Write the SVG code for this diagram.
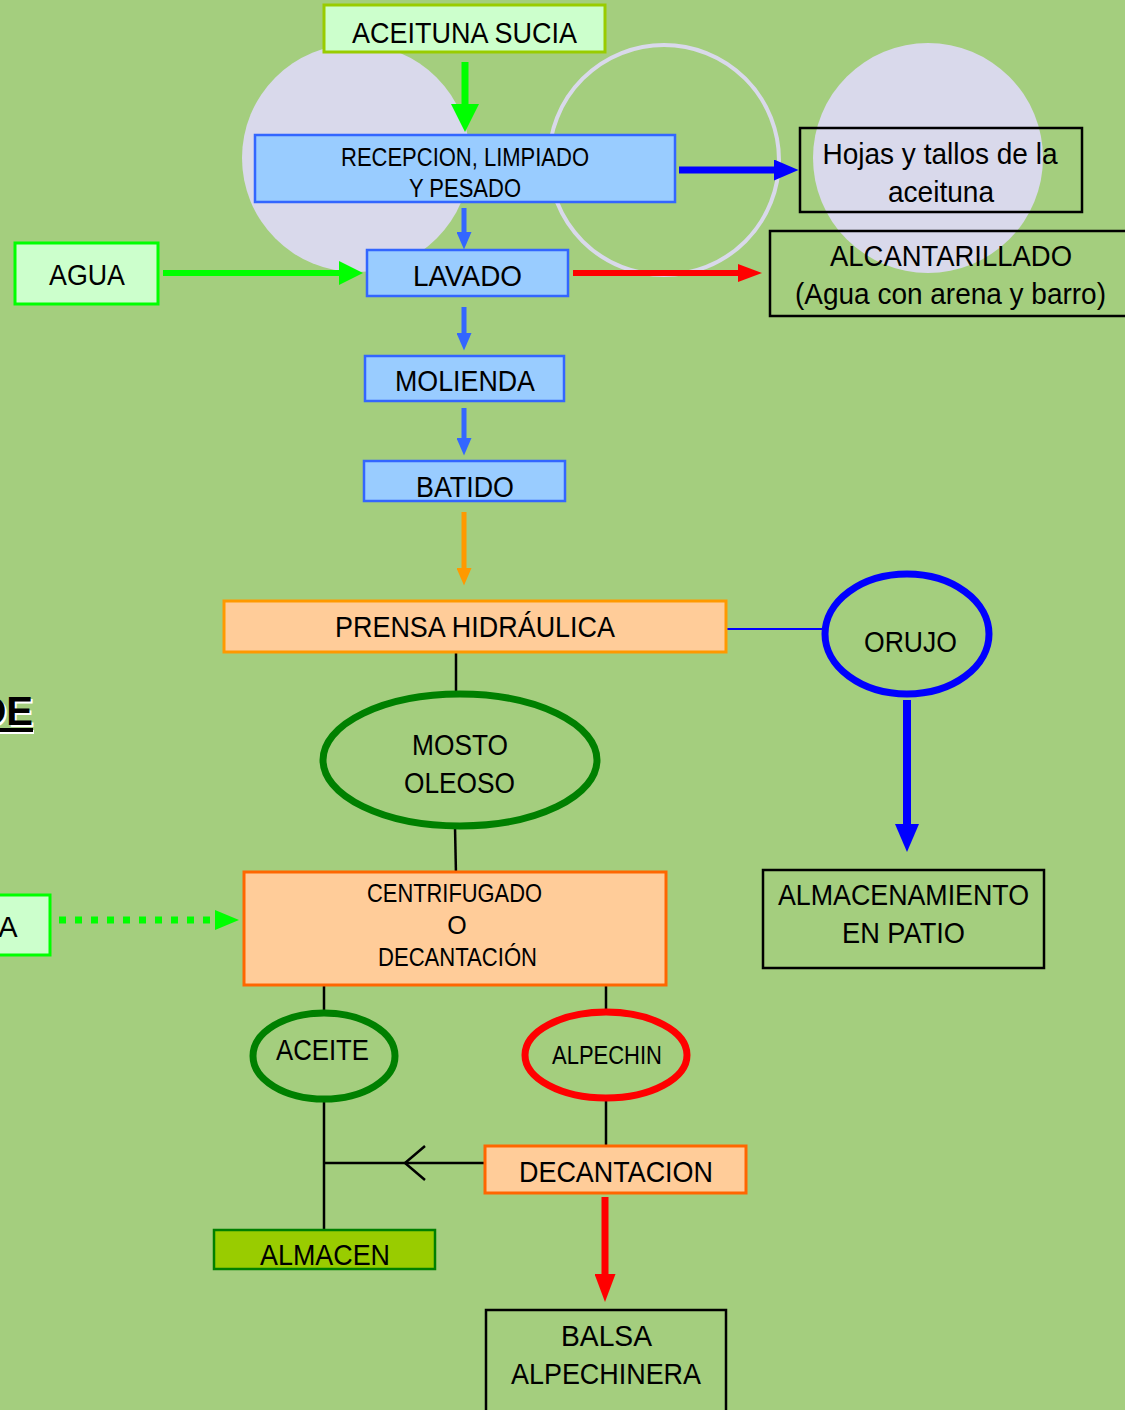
<svg xmlns="http://www.w3.org/2000/svg" width="1125" height="1410" viewBox="0 0 1125 1410">
<style>
text{font-family:"Liberation Sans Narrow","Liberation Sans",Arial,sans-serif;fill:#000;text-anchor:middle}
.t30{font-size:29px}
.t24{font-size:25px}
.green{fill:#CCFFCC;stroke:#00FF00;stroke-width:3}
.blue{fill:#99CCFF;stroke:#3366FF;stroke-width:2.5}
.orange{fill:#FFCC99;stroke:#FF6600;stroke-width:3}
.plain{fill:none;stroke:#000;stroke-width:2.5}
.conn{fill:none}
</style>
<defs>
<marker id="aGreen" markerWidth="4" markerHeight="4" refX="0" refY="2" orient="auto" markerUnits="strokeWidth"><path d="M0,0 L4,2 L0,4z" fill="#00FF00"/></marker>
<marker id="aBlue" markerWidth="3.5" markerHeight="3" refX="0" refY="1.5" orient="auto" markerUnits="strokeWidth"><path d="M0,0 L3.5,1.5 L0,3z" fill="#3366FF"/></marker>
<marker id="aDBlue" markerWidth="3.5" markerHeight="3" refX="0" refY="1.5" orient="auto" markerUnits="strokeWidth"><path d="M0,0 L3.5,1.5 L0,3z" fill="#0000FF"/></marker>
<marker id="aRed" markerWidth="4" markerHeight="3" refX="0" refY="1.5" orient="auto" markerUnits="strokeWidth"><path d="M0,0 L4,1.5 L0,3z" fill="#FF0000"/></marker>
<marker id="aOrange" markerWidth="3.5" markerHeight="3" refX="0" refY="1.5" orient="auto" markerUnits="strokeWidth"><path d="M0,0 L3.5,1.5 L0,3z" fill="#FF9900"/></marker>
</defs>
<rect x="0" y="0" width="1125" height="1410" fill="#A4CE7E"/>
<g id="decor">
<circle cx="356" cy="158" r="114" fill="#D9D9EB"/>
<circle cx="664" cy="160" r="115" fill="none" stroke="#D9D9EB" stroke-width="4"/>
<circle cx="928" cy="158" r="115" fill="#D9D9EB"/>
</g>
<g id="connectors">
<line class="conn" x1="465" y1="62" x2="465" y2="104" stroke="#00FF00" stroke-width="7" marker-end="url(#aGreen)"/>
<line class="conn" x1="464" y1="208" x2="464" y2="232" stroke="#3366FF" stroke-width="5" marker-end="url(#aBlue)"/>
<line class="conn" x1="163" y1="273" x2="339" y2="273" stroke="#00FF00" stroke-width="6" marker-end="url(#aGreen)"/>
<line class="conn" x1="573" y1="273" x2="738" y2="273" stroke="#FF0000" stroke-width="6" marker-end="url(#aRed)"/>
<line class="conn" x1="679" y1="170" x2="774" y2="170" stroke="#0000FF" stroke-width="7" marker-end="url(#aDBlue)"/>
<line class="conn" x1="464" y1="307" x2="464" y2="333" stroke="#3366FF" stroke-width="5" marker-end="url(#aBlue)"/>
<line class="conn" x1="464" y1="408" x2="464" y2="438" stroke="#3366FF" stroke-width="5" marker-end="url(#aBlue)"/>
<line class="conn" x1="464" y1="512" x2="464" y2="568" stroke="#FF9900" stroke-width="5" marker-end="url(#aOrange)"/>
<line class="conn" x1="726" y1="629" x2="826" y2="629" stroke="#0000FF" stroke-width="2"/>
<line class="conn" x1="907" y1="700" x2="907" y2="824" stroke="#0000FF" stroke-width="8" marker-end="url(#aDBlue)"/>
<line class="conn" x1="456" y1="652" x2="456" y2="694" stroke="#000" stroke-width="2.5"/>
<line class="conn" x1="455" y1="827" x2="456" y2="875" stroke="#000" stroke-width="2.5"/>
<line class="conn" x1="59" y1="920" x2="216" y2="920" stroke="#00FF00" stroke-width="7" stroke-dasharray="7,9"/>
<path d="M215,910 L239,920 L215,930z" fill="#00FF00"/>
<line class="conn" x1="324" y1="985" x2="324" y2="1014" stroke="#000" stroke-width="2.5"/>
<line class="conn" x1="606" y1="985" x2="606" y2="1013" stroke="#000" stroke-width="2.5"/>
<line class="conn" x1="324" y1="1098" x2="324" y2="1230" stroke="#000" stroke-width="2.5"/>
<line class="conn" x1="606" y1="1097" x2="606" y2="1146" stroke="#000" stroke-width="2.5"/>
<line class="conn" x1="485" y1="1163" x2="324" y2="1163" stroke="#000" stroke-width="2.5"/>
<path d="M425,1146 L405,1163 L425,1180" fill="none" stroke="#000" stroke-width="2.5"/>
<line class="conn" x1="605" y1="1197" x2="605" y2="1274" stroke="#FF0000" stroke-width="7" marker-end="url(#aRed)"/>
</g>
<g id="n-aceituna">
<rect x="324" y="5" width="281" height="47" fill="#CCFFCC" stroke="#99CC00" stroke-width="3"/>
<text class="t30" x="464.5" y="43" textLength="225" lengthAdjust="spacingAndGlyphs">ACEITUNA SUCIA</text>
</g>
<g id="n-recepcion">
<rect class="blue" x="255" y="135" width="420" height="67"/>
<text class="t24" x="465" y="166" textLength="248" lengthAdjust="spacingAndGlyphs">RECEPCION, LIMPIADO</text>
<text class="t24" x="465" y="197" textLength="112" lengthAdjust="spacingAndGlyphs">Y PESADO</text>
</g>
<g id="n-hojas">
<rect class="plain" x="800" y="128" width="282" height="84"/>
<text class="t30" x="940" y="164" textLength="235" lengthAdjust="spacingAndGlyphs">Hojas y tallos de la</text>
<text class="t30" x="941" y="202" textLength="106" lengthAdjust="spacingAndGlyphs">aceituna</text>
</g>
<g id="n-alcantarillado">
<rect class="plain" x="770" y="231" width="360" height="85"/>
<text class="t30" x="951" y="266" textLength="242" lengthAdjust="spacingAndGlyphs">ALCANTARILLADO</text>
<text class="t30" x="950.5" y="304" textLength="311" lengthAdjust="spacingAndGlyphs">(Agua con arena y barro)</text>
</g>
<g id="n-agua">
<rect class="green" x="15" y="243" width="143" height="61"/>
<text class="t30" x="87" y="285" textLength="76" lengthAdjust="spacingAndGlyphs">AGUA</text>
</g>
<g id="n-lavado">
<rect class="blue" x="367" y="250" width="201" height="46"/>
<text class="t30" x="467.5" y="286" textLength="109" lengthAdjust="spacingAndGlyphs">LAVADO</text>
</g>
<g id="n-molienda">
<rect class="blue" x="365" y="356" width="199" height="45"/>
<text class="t30" x="465" y="391" textLength="140" lengthAdjust="spacingAndGlyphs">MOLIENDA</text>
</g>
<g id="n-batido">
<rect class="blue" x="364" y="461" width="201" height="40"/>
<text class="t30" x="465" y="497" textLength="98" lengthAdjust="spacingAndGlyphs">BATIDO</text>
</g>
<g id="n-prensa">
<rect x="224" y="601" width="502" height="51" fill="#FFCC99" stroke="#FF9900" stroke-width="3"/>
<text class="t30" x="475" y="637" textLength="280" lengthAdjust="spacingAndGlyphs">PRENSA HIDRÁULICA</text>
</g>
<g id="n-orujo">
<ellipse cx="907" cy="634" rx="82" ry="60" fill="none" stroke="#0000FF" stroke-width="7"/>
<text class="t30" x="910.5" y="652" textLength="93" lengthAdjust="spacingAndGlyphs">ORUJO</text>
</g>
<g id="n-mosto">
<ellipse cx="460" cy="760" rx="137" ry="66" fill="none" stroke="#008000" stroke-width="7"/>
<text class="t30" x="460" y="755" textLength="96" lengthAdjust="spacingAndGlyphs">MOSTO</text>
<text class="t30" x="459.5" y="793" textLength="111" lengthAdjust="spacingAndGlyphs">OLEOSO</text>
</g>
<g id="n-centrifugado">
<rect class="orange" x="244" y="872" width="422" height="113"/>
<text class="t24" x="454.5" y="902" textLength="175" lengthAdjust="spacingAndGlyphs">CENTRIFUGADO</text>
<text class="t24" x="457" y="934">O</text>
<text class="t24" x="457.5" y="966" textLength="159" lengthAdjust="spacingAndGlyphs">DECANTACIÓN</text>
</g>
<g id="n-almacenamiento">
<rect class="plain" x="763" y="870" width="281" height="98"/>
<text class="t30" x="903.5" y="905" textLength="251" lengthAdjust="spacingAndGlyphs">ALMACENAMIENTO</text>
<text class="t30" x="903.5" y="943" textLength="123" lengthAdjust="spacingAndGlyphs">EN PATIO</text>
</g>
<g id="n-aceite">
<ellipse cx="324" cy="1056" rx="71" ry="43" fill="none" stroke="#008000" stroke-width="7"/>
<text class="t30" x="322.5" y="1060" textLength="93" lengthAdjust="spacingAndGlyphs">ACEITE</text>
</g>
<g id="n-alpechin">
<ellipse cx="606" cy="1055" rx="81" ry="43" fill="none" stroke="#FF0000" stroke-width="7"/>
<text class="t24" x="607" y="1064" textLength="110" lengthAdjust="spacingAndGlyphs">ALPECHIN</text>
</g>
<g id="n-decantacion">
<rect class="orange" x="485" y="1146" width="261" height="47"/>
<text class="t30" x="616" y="1182" textLength="194" lengthAdjust="spacingAndGlyphs">DECANTACION</text>
</g>
<g id="n-almacen">
<rect x="214" y="1230" width="221" height="39" fill="#99CC00" stroke="#008000" stroke-width="2.5"/>
<text class="t30" x="325" y="1265" textLength="130" lengthAdjust="spacingAndGlyphs">ALMACEN</text>
</g>
<g id="n-balsa">
<rect class="plain" x="486" y="1310" width="240" height="110"/>
<text class="t30" x="606.5" y="1346" textLength="91" lengthAdjust="spacingAndGlyphs">BALSA</text>
<text class="t30" x="606" y="1384" textLength="190" lengthAdjust="spacingAndGlyphs">ALPECHINERA</text>
</g>
<g id="n-a-left">
<rect class="green" x="-10" y="895" width="60" height="60"/>
<text class="t30" x="8" y="937">A</text>
</g>
<g id="title-fragment">
<text x="35" y="727" style="font-family:'Liberation Sans',Arial,sans-serif;font-size:40px;font-weight:bold;fill:#fff;text-anchor:end">DE</text>
<rect x="-2" y="730" width="36" height="4" fill="#fff"/>
<text x="33" y="725" style="font-family:'Liberation Sans',Arial,sans-serif;font-size:40px;font-weight:bold;text-anchor:end">DE</text>
<rect x="-2" y="728" width="35" height="4" fill="#000"/>
</g>
</svg>
